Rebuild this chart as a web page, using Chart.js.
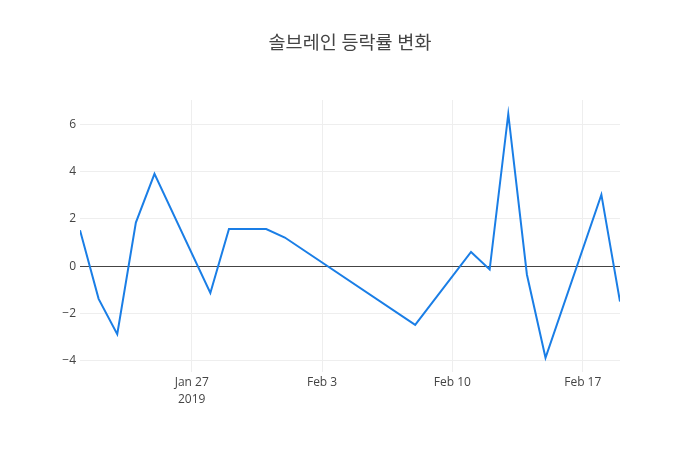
<!DOCTYPE html>
<html>
<head>
<meta charset="utf-8">
<script src="https://cdn.jsdelivr.net/npm/chart.js@4/dist/chart.umd.min.js"></script>
<style>
  html, body { margin: 0; padding: 0; background: #fff; }
  #wrap { width: 700px; height: 450px; }
</style>
</head>
<body>
<div id="wrap"><canvas id="line-chart"></canvas></div>
<script>
// trading days and daily change (%)
const dates = ['2019-01-21','2019-01-22','2019-01-23','2019-01-24','2019-01-25',
               '2019-01-28','2019-01-29','2019-01-30','2019-01-31','2019-02-01',
               '2019-02-08','2019-02-11','2019-02-12','2019-02-13','2019-02-14',
               '2019-02-15','2019-02-18','2019-02-19'];
const changes = [1.52, -1.38, -2.87, 1.84, 3.90,
                 -1.13, 1.57, 1.57, 1.57, 1.21,
                 -2.48, 0.60, -0.14, 6.43, -0.35,
                 -3.87, 3.02, -1.49];
const xTickDates = ['2019-01-27','2019-02-03','2019-02-10','2019-02-17'];
const yTicks = [-4, -2, 0, 2, 4, 6];

const DAY = 86400000;
const t0 = Date.parse(dates[0]);
const dayOf = d => (Date.parse(d) - t0) / DAY;
const months = ['Jan','Feb','Mar','Apr','May','Jun','Jul','Aug','Sep','Oct','Nov','Dec'];

const points = dates.map((d, i) => ({ x: dayOf(d), y: changes[i] }));
const xTickVals = xTickDates.map(dayOf);

function fmtDay(v) {
  const dt = new Date(t0 + v * DAY);
  const s = months[dt.getUTCMonth()] + ' ' + dt.getUTCDate();
  return v === xTickVals[0] ? [s, String(dt.getUTCFullYear())] : s;
}

new Chart(document.getElementById("line-chart"), {
  type: 'line',
  data: {
    datasets: [{
      data: points,
      borderColor: '#1a7ee6',
      borderWidth: 2,
      pointRadius: 0,
      tension: 0,
      fill: false
    }]
  },
  options: {
    responsive: true,
    maintainAspectRatio: false,
    animation: false,
    layout: { padding: 0 },
    scales: {
      x: {
        type: 'linear',
        min: 0,
        max: dayOf(dates[dates.length - 1]),
        afterBuildTicks: s => { s.ticks = xTickVals.map(v => ({ value: v })); },
        afterFit: s => { s.height = 78; },
        border: { display: false },
        grid: { color: '#eeeeee', drawTicks: false },
        ticks: {
          padding: 2,
          color: '#444',
          maxRotation: 0,
          font: { family: 'Open Sans', size: 12, lineHeight: 1.4 },
          callback: v => fmtDay(v)
        }
      },
      y: {
        min: -4.47,
        max: 7.02,
        afterBuildTicks: s => { s.ticks = yTicks.map(v => ({ value: v })); },
        afterFit: s => { s.width = 80; },
        border: { display: false },
        grid: {
          drawTicks: false,
          color: c => c.tick && c.tick.value === 0 ? '#444444' : '#eeeeee'
        },
        ticks: {
          padding: 4,
          color: '#444',
          font: { family: 'Open Sans', size: 12 },
          callback: v => v < 0 ? '\u2212' + Math.abs(v) : String(v)
        }
      },
      // empty right margin, keeps the plot area at 80..620
      yRight: {
        position: 'right',
        afterFit: s => { s.width = 80; },
        border: { display: false },
        grid: { display: false },
        ticks: { display: false }
      }
    },
    plugins: {
      legend: { display: false },
      tooltip: { enabled: false },
      title: {
        display: true,
        text: '솔브레인 등락률 변화',
        color: '#444',
        font: { family: 'Open Sans, Noto Sans CJK KR', size: 18.5, weight: 'normal', lineHeight: 1.2 },
        padding: { top: 33, bottom: 44.8 }
      }
    }
  }
});
</script>
</body>
</html>
